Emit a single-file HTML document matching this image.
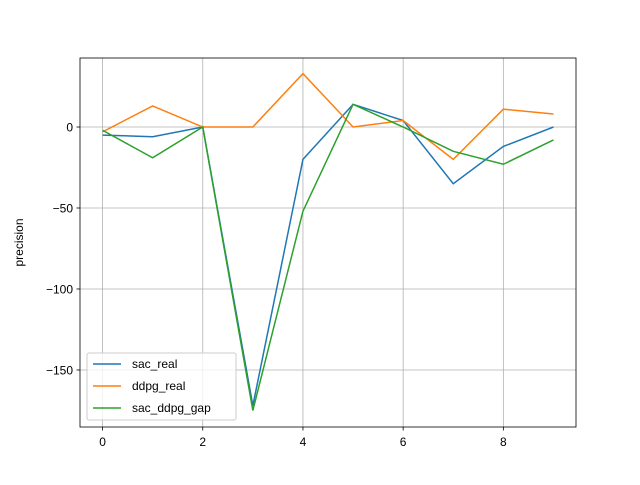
<!DOCTYPE html>
<html><head><meta charset="utf-8"><style>body{margin:0;background:#fff}svg{font-family:"Liberation Sans",sans-serif}</style></head>
<body>
<svg id="c" width="640" height="480" xmlns="http://www.w3.org/2000/svg"></svg>
<script>
const xs=[0,1,2,3,4,5,6,7,8,9];
const sacReal=[-5,-6,0,-172,-20,14,4,-35,-12,0];
const ddpgReal=[-3,13,0,0,33,0,4,-20,11,8];
const sacDdpgGap=[-2,-19,0,-175,-52,14,0,-15,-23,-8];
const xTicks=[0,2,4,6,8];
const yTicks=[0,-50,-100,-150];
const seriesNames=["sac_real","ddpg_real","sac_ddpg_gap"];
const colors=["#1f77b4","#ff7f0e","#2ca02c"];
const L=80,R=576,T=58,B=427;
const xmin=-0.45,xmax=9.45,ymin=-185.2,ymax=42.6;
const X=v=>L+(v-xmin)/(xmax-xmin)*(R-L);
const Y=v=>B-(v-ymin)/(ymax-ymin)*(B-T);
const svg=document.getElementById('c');
const NS="http://www.w3.org/2000/svg";
function mk(t,a,p){const e=document.createElementNS(NS,t);for(const k in a)e.setAttribute(k,a[k]);(p||svg).appendChild(e);return e;}
xTicks.forEach(v=>{
 const g=mk('line',{x1:X(v),x2:X(v),y1:T,y2:B,stroke:'#b0b0b0','stroke-width':0.8});
 
 
 mk('line',{x1:X(v),x2:X(v),y1:B,y2:B+3.5,stroke:'#000','stroke-width':0.8});
 const t=mk('text',{x:X(v),y:B+19,'text-anchor':'middle','font-size':12});t.textContent=v;
 
 
});
yTicks.forEach(v=>{
 const g=mk('line',{x1:L,x2:R,y1:Y(v),y2:Y(v),stroke:'#b0b0b0','stroke-width':0.8});
 
 
 mk('line',{x1:L-3.5,x2:L,y1:Y(v),y2:Y(v),stroke:'#000','stroke-width':0.8});
 const t=mk('text',{x:L-7,y:Y(v)+4.5,'text-anchor':'end','font-size':12});t.textContent=(v<0?'\u2212'+(-v):v);
 
 
});
[sacReal,ddpgReal,sacDdpgGap].forEach((s,i)=>{
 const p=mk('polyline',{points:s.map((v,j)=>X(xs[j])+','+Y(v)).join(' '),fill:'none',stroke:colors[i],'stroke-width':1.5});
 
 
});
const fr=mk('rect',{x:L,y:T,width:R-L,height:B-T,fill:'none',stroke:'#000','stroke-width':0.8});


const yl=mk('text',{x:0,y:0,transform:'translate(23,'+(T+B)/2+') rotate(-90)','text-anchor':'middle','font-size':12});
yl.textContent='precision';


const lg=mk('rect',{x:87,y:353,width:149,height:67,fill:'#fff','fill-opacity':0.8,stroke:'#ccc','stroke-width':1,rx:2});


seriesNames.forEach((n,i)=>{
 const y=364+i*22;
 mk('line',{x1:93,x2:121,y1:y,y2:y,stroke:colors[i],'stroke-width':1.5});
 const t=mk('text',{x:132,y:y+4,'font-size':12});t.textContent=n;
 
 
});
</script>
</body></html>
